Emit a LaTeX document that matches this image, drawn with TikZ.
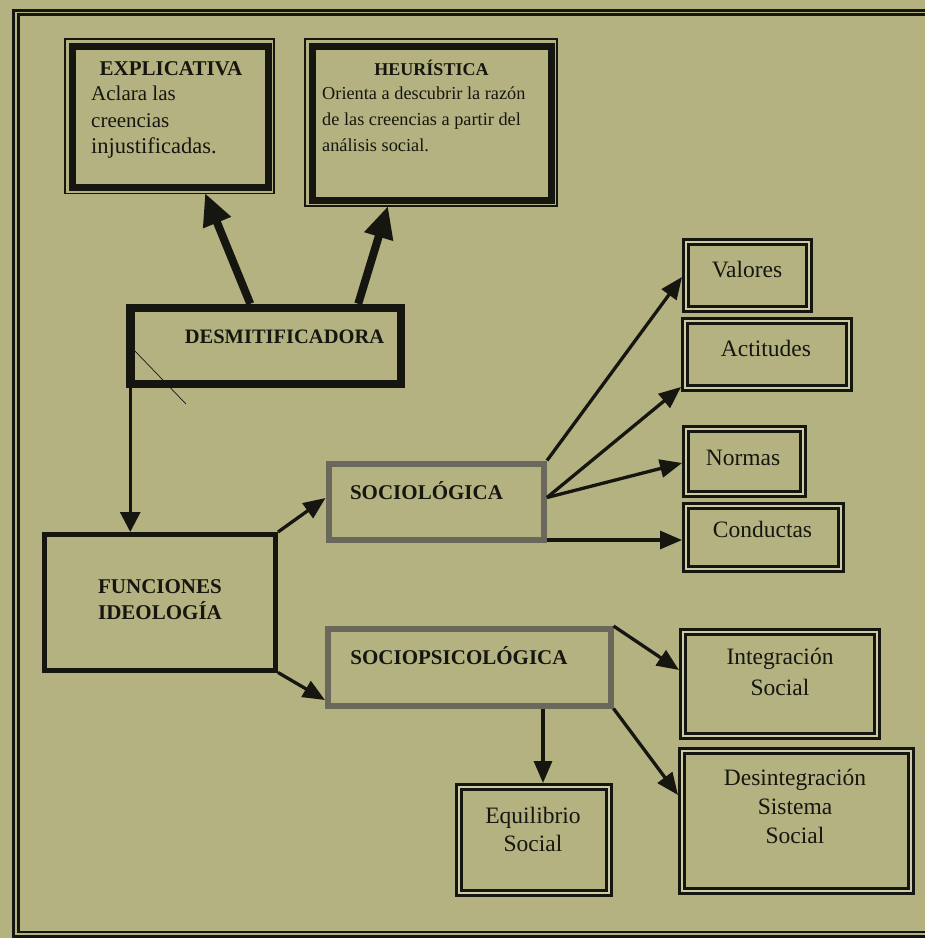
\documentclass[tikz,border=0pt]{standalone}
\usepackage{fontspec}
\setmainfont{Liberation Serif}
\usetikzlibrary{arrows.meta,calc}
\definecolor{bg}{RGB}{180,178,128}
\definecolor{gapc}{RGB}{205,203,168}
\definecolor{ink}{RGB}{22,22,16}
\definecolor{greyb}{RGB}{105,104,90}
\begin{document}
\begin{tikzpicture}[x=1pt,y=-1pt,
  heavybox/.style={draw=ink, line width=7pt, inner sep=0pt},
  thickbox/.style={draw=ink, line width=8.5pt, inner sep=0pt},
  funcbox/.style={draw=ink, line width=5pt, inner sep=0pt},
  greybox/.style={draw=greyb, line width=6pt, inner sep=0pt},
  dblbox/.style={draw=ink, line width=2.8pt, double=gapc, double distance=2.6pt, inner sep=0pt, outer sep=4.1pt},
  thinframe/.style={draw=ink, line width=1.6pt},
  ttl/.style={text=ink, inner sep=0pt, font=\bfseries\fontsize{21}{26}\selectfont},
  bodytxt/.style={text=ink, inner sep=0pt, font=\fontsize{23.5}{29}\selectfont},
  arr/.style={draw=ink, line width=3.3pt, -{Triangle[length=22pt,width=18pt]}},
  thinarr/.style={draw=ink, line width=3pt, -{Triangle[length=20pt,width=20pt]}},
  bigarr/.style={draw=ink, line width=8pt, -{Triangle[length=32pt,width=28pt]}}
]
\useasboundingbox (0,0) rectangle (925,938);
\fill[bg] (0,0) rectangle (925,938);
\clip (0,0) rectangle (925,938);

% outer frame
\draw[ink, line width=3pt] (13.5,10) rectangle (945,936.5);
\draw[ink, line width=2.5pt] (18.5,14.5) rectangle (940,932);

% boxes
\node[heavybox, minimum width=196pt, minimum height=141pt] (expl) at (170,116.5) {};
\draw[thinframe] ([shift={(-3.5,-3.5)}]expl.north west) rectangle ([shift={(2.5,3)}]expl.south east);
\node[heavybox, minimum width=239pt, minimum height=154pt] (heur) at (431.5,123) {};
\draw[thinframe] ([shift={(-3.5,-3.5)}]heur.north west) rectangle ([shift={(2.5,2.5)}]heur.south east);
\node[thickbox, minimum width=270.5pt, minimum height=76pt] (desm) at (265.75,346) {};
\node[funcbox, minimum width=231pt, minimum height=135.5pt] (func) at (160,602.25) {};
\node[greybox, minimum width=215.5pt, minimum height=76pt] (soc) at (436.25,501.5) {};
\node[greybox, minimum width=282.5pt, minimum height=76.5pt] (socp) at (469.25,667.25) {};
\node[dblbox, minimum width=122.8pt, minimum height=66.8pt] (valores) at (747.5,275.5) {};
\node[dblbox, minimum width=163.8pt, minimum height=66.8pt] (actitudes) at (767,354.5) {};
\node[dblbox, minimum width=116.8pt, minimum height=64.8pt] (normas) at (744.5,461.5) {};
\node[dblbox, minimum width=154.8pt, minimum height=62.8pt] (conductas) at (763.5,537.5) {};
\node[dblbox, minimum width=193.8pt, minimum height=103.8pt] (integ) at (780,684) {};
\node[dblbox, minimum width=149.8pt, minimum height=105.8pt] (equi) at (534,840) {};
\node[dblbox, minimum width=228.8pt, minimum height=139.8pt] (desint) at (796.5,821) {};

% texts
\node[ttl, anchor=base] (explT) at (171,75) {EXPLICATIVA};
\node[text=ink, inner sep=0pt, anchor=base west, font=\fontsize{21}{26.5}\selectfont] (explB) at (91,100.7)
  {\begin{tabular}[t]{@{}l@{}}Aclara las\\creencias\\{\fontsize{22.5}{26.5}\selectfont injustificadas.}\end{tabular}};
\node[ttl, anchor=base, font=\bfseries\fontsize{18}{26}\selectfont] (heurT) at (431.5,75) {HEURÍSTICA};
\node[text=ink, inner sep=0pt, anchor=base west, font=\fontsize{18.3}{26.2}\selectfont] (heurB) at (322,99.3)
  {\begin{tabular}[t]{@{}l@{}}Orienta a descubrir la razón\\de las creencias a partir del\\análisis social.\end{tabular}};
\node[ttl, anchor=base, font=\bfseries\fontsize{20.5}{26}\selectfont] (desmT) at (284.5,343) {DESMITIFICADORA};
\node[ttl, anchor=base] (funcT) at (160,593) {\begin{tabular}[t]{@{}c@{}}FUNCIONES\\IDEOLOGÍA\end{tabular}};
\node[ttl, anchor=base] (socT) at (426.5,499) {SOCIOLÓGICA};
\node[ttl, anchor=base] (socpT) at (459,664) {SOCIOPSICOLÓGICA};
\node[bodytxt, anchor=base] (valT) at (747,277) {Valores};
\node[bodytxt, anchor=base] (actT) at (766,356) {Actitudes};
\node[bodytxt, anchor=base] (norT) at (743,465) {Normas};
\node[bodytxt, anchor=base] (conT) at (762.5,537) {Conductas};
\node[bodytxt, anchor=base, font=\fontsize{23.5}{31}\selectfont] (integT) at (780,664) {\begin{tabular}[t]{@{}c@{}}Integración\\Social\end{tabular}};
\node[bodytxt, anchor=base, font=\fontsize{23.5}{28}\selectfont] (equiT) at (533,823) {\begin{tabular}[t]{@{}c@{}}Equilibrio\\Social\end{tabular}};
\node[bodytxt, anchor=base] (desintT) at (795,785) {\begin{tabular}[t]{@{}c@{}}Desintegración\\Sistema\\Social\end{tabular}};

% stray thin mark
\draw[ink, line width=0.7pt] (133,349) -- (186,404);

% connectors
\draw[bigarr] ([xshift=124pt]desm.north west) -- ([xshift=35pt,yshift=-2.5pt]expl.south);
\draw[bigarr] ([xshift=232pt]desm.north west) -- ([xshift=-43.5pt,yshift=-2.5pt]heur.south);
\coordinate (dfs) at ([xshift=4pt]desm.south west);
\draw[thinarr] (dfs) -- (dfs |- func.north);
\draw[arr] (func.north east) -- ([yshift=3.5pt]soc.west);
\draw[arr] (func.south east) -- ([yshift=8.5pt]socp.south west);
\draw[arr] (soc.north east) -- ([yshift=-1.5pt]valores.west);
\draw[arr] ([yshift=4pt]soc.east) -- ([yshift=5pt]actitudes.south west);
\draw[arr] ([yshift=4pt]soc.east) -- ([yshift=-1.5pt]normas.west);
\coordinate (sc) at ([yshift=2.5pt]soc.south east);
\draw[arr] (sc) -- (sc -| conductas.west);
\coordinate (eqn) at ([xshift=9pt]equi.north);
\draw[arr] (socp.south -| eqn) -- (eqn);
\draw[arr] (socp.north east) -- ([yshift=14pt]integ.west);
\draw[arr] (socp.south east) -- ([yshift=26pt]desint.west);
\end{tikzpicture}
\end{document}
